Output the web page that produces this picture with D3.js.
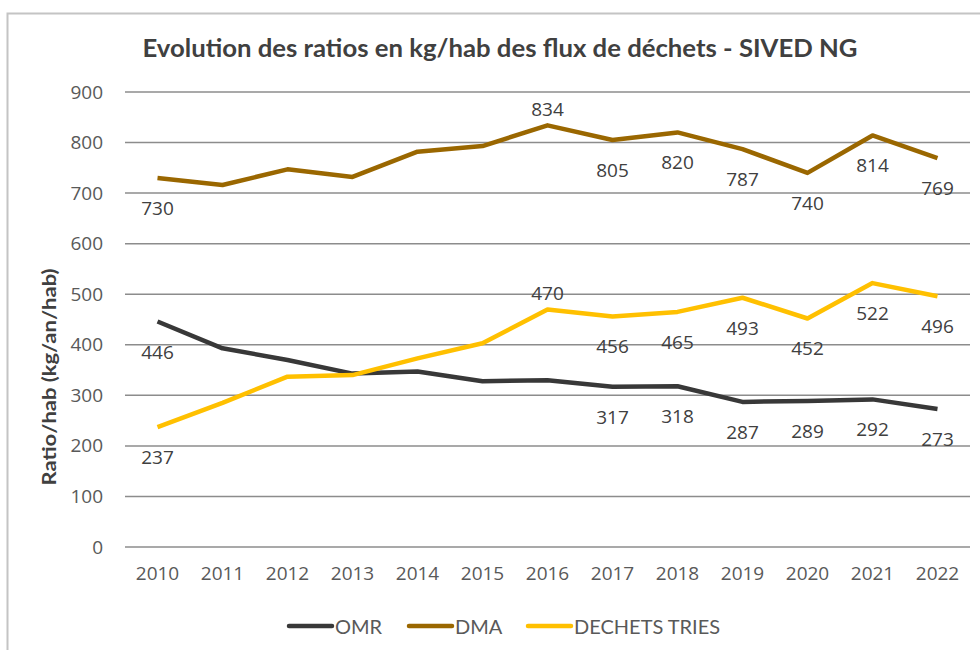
<!DOCTYPE html>
<html>
<head>
<meta charset="utf-8">
<script src="https://cdn.jsdelivr.net/npm/d3@7"></script>
<style>
  body { margin: 0; background: #fff; }
  svg text { font-family: "Open Sans", sans-serif; }
</style>
</head>
<body>
<div id="chart"></div>
<script>
// data
const years = ["2010","2011","2012","2013","2014","2015","2016","2017","2018","2019","2020","2021","2022"]
const omr = [446, 393, 370, 343, 347, 328, 330, 317, 318, 287, 289, 292, 273]
const dma = [730, 716, 747, 732, 782, 793, 834, 805, 820, 787, 740, 814, 769]
const tries = [237, 285, 337, 340, 373, 403, 470, 456, 465, 493, 452, 522, 496]
const yTicks = [0, 100, 200, 300, 400, 500, 600, 700, 800, 900]

// which points show a label and where (b = below, a = above)
const omrLabels = ["b","","","","","","","b","b","b","b","b","b"]
const dmaLabels = ["b","","","","","","a","b","b","b","b","b","b"]
const triesLabels = ["b","","","","","","a","b","b","b","b","b","b"]

const series = [
  {name: "OMR", values: omr, labels: omrLabels, color: "#383838"},
  {name: "DMA", values: dma, labels: dmaLabels, color: "#9a6700"},
  {name: "DECHETS TRIES", values: tries, labels: triesLabels, color: "#ffc000"}
]

const width = 980
const height = 650
const plot = {left: 125, right: 970, top: 92, bottom: 547}

const svg = d3.select("#chart")
  .append("svg")
    .attr("width", width)
    .attr("height", height)

// chart frame
svg.append("rect")
  .attr("x", 7.5).attr("y", 13.5)
  .attr("width", 990).attr("height", 660)
  .attr("fill", "none")
  .attr("stroke", "#c4c4c4")
  .attr("stroke-width", 2)

const x = d3.scaleBand()
  .domain(years)
  .range([plot.left, plot.right])

const y = d3.scaleLinear()
  .domain([0, 900])
  .range([plot.bottom, plot.top])

// gridlines
svg.append("g")
  .selectAll("line")
  .data(yTicks)
  .join("line")
    .attr("x1", plot.left)
    .attr("x2", plot.right)
    .attr("y1", d => y(d))
    .attr("y2", d => y(d))
    .attr("stroke", "#8c8c8c")
    .attr("stroke-width", 1.5)

// y axis labels
const yAxis = svg.append("g")
  .attr("transform", `translate(${plot.left}, 0)`)
  .call(d3.axisLeft(y).tickValues(yTicks).tickSize(0).tickPadding(22))
yAxis.select(".domain").remove()
yAxis.selectAll("text")
  .attr("font-family", "Open Sans")
  .attr("font-size", 19)
  .attr("fill", "#595959")

// x axis labels
const xAxis = svg.append("g")
  .attr("transform", `translate(0, ${plot.bottom})`)
  .call(d3.axisBottom(x).tickSize(0).tickPadding(20))
xAxis.select(".domain").remove()
xAxis.selectAll("text")
  .attr("font-family", "Open Sans")
  .attr("font-size", 19)
  .attr("fill", "#595959")

// lines
const line = d3.line()
  .x((d, i) => x(years[i]) + x.bandwidth() / 2)
  .y(d => y(d))

svg.append("g")
  .selectAll("path")
  .data(series)
  .join("path")
    .attr("d", d => line(d.values))
    .attr("fill", "none")
    .attr("stroke", d => d.color)
    .attr("stroke-width", 4.5)
    .attr("stroke-linejoin", "round")

// data labels
series.forEach(s => {
  const pts = s.values.map((v, i) => ({v: v, i: i, pos: s.labels[i]})).filter(p => p.pos != "")
  svg.append("g")
    .selectAll("text")
    .data(pts)
    .join("text")
      .attr("x", d => x(years[d.i]) + x.bandwidth() / 2)
      .attr("y", d => y(d.v) + (d.pos == "a" ? -16 : 30))
      .attr("text-anchor", "middle")
      .attr("dominant-baseline", "central")
      .attr("font-size", 19)
      .attr("fill", "#404040")
      .text(d => d.v)
})

// title
svg.append("text")
  .attr("x", 500)
  .attr("y", 47)
  .attr("text-anchor", "middle")
  .attr("dominant-baseline", "central")
  .attr("font-weight", "bold")
  .attr("font-size", 24)
  .attr("fill", "#404040")
  .attr("textLength", 715)
  .attr("lengthAdjust", "spacingAndGlyphs")
  .style("font-family", "Lato")
  .text("Evolution des ratios en kg/hab des flux de déchets - SIVED NG")

// y axis title
svg.append("text")
  .attr("transform", "translate(48, 377) rotate(-90)")
  .attr("text-anchor", "middle")
  .attr("dominant-baseline", "central")
  .attr("font-weight", "bold")
  .attr("font-size", 19)
  .attr("fill", "#404040")
  .attr("textLength", 217)
  .attr("lengthAdjust", "spacingAndGlyphs")
  .style("font-family", "Lato")
  .text("Ratio/hab (kg/an/hab)")

// legend
const legendX = [288, 408, 527]
const legend = svg.append("g")
  .selectAll("g")
  .data(series)
  .join("g")
    .attr("transform", (d, i) => `translate(${legendX[i]}, 626)`)
legend.append("line")
  .attr("x1", 1).attr("x2", 44)
  .attr("stroke", d => d.color)
  .attr("stroke-width", 4.5)
  .attr("stroke-linecap", "round")
legend.append("text")
  .attr("x", 47)
  .attr("dominant-baseline", "central")
  .attr("font-size", 20)
  .attr("fill", "#595959")
  .style("font-family", "Lato")
  .text(d => d.name)
</script>
</body>
</html>
